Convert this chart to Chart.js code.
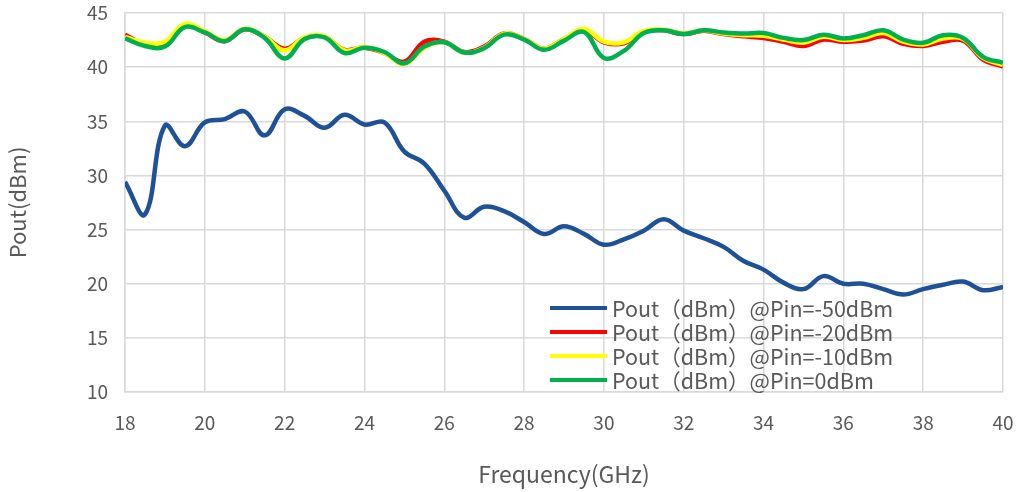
<!DOCTYPE html>
<html>
<head>
<meta charset="utf-8">
<script src="https://cdn.jsdelivr.net/npm/chart.js@4/dist/chart.umd.min.js"></script>
<style>
  html, body { margin: 0; padding: 0; background: #fff; }
  #wrap { width: 1022px; height: 492px; }
</style>
</head>
<body>
<div id="wrap"><canvas id="c" width="1022" height="492"></canvas></div>
<script>
// frequency points (GHz)
const freq = [];
for (let f = 18; f <= 40; f += 0.5) freq.push(f);

const pin50 = [29.4, 26.4, 34.6, 32.7, 34.9, 35.2, 35.9, 33.7, 36.1, 35.5, 34.4, 35.6, 34.7, 34.9, 32.2, 31.1,
  28.6, 26.1, 27.1, 26.7, 25.7, 24.6, 25.3, 24.6, 23.6, 24.1, 24.9, 25.95, 24.9, 24.2, 23.4, 22.1,
  21.3, 20.1, 19.5, 20.7, 20.0, 20.0, 19.5, 19.0, 19.5, 19.9, 20.2, 19.4, 19.7];
const pin20 = [43.0, 42.1, 42.2, 43.9, 43.2, 42.4, 43.5, 42.8, 41.7, 42.7, 42.8, 41.6, 41.8, 41.3, 40.5, 42.35,
  42.35, 41.4, 41.9, 43.1, 42.6, 41.7, 42.6, 43.4, 42.3, 42.2, 43.3, 43.4, 43.05, 43.35, 43.05, 42.85,
  42.7, 42.35, 41.95, 42.55, 42.35, 42.45, 42.85, 42.15, 41.95, 42.35, 42.45, 40.7, 40.05];
const pin10 = [42.8, 42.25, 42.35, 44.0, 43.3, 42.5, 43.55, 42.8, 41.55, 42.75, 42.85, 41.55, 41.85, 41.3, 40.3, 41.8,
  42.3, 41.35, 41.8, 43.1, 42.6, 41.7, 42.6, 43.55, 42.35, 42.3, 43.35, 43.45, 43.1, 43.4, 43.1, 42.95,
  42.9, 42.55, 42.25, 42.8, 42.5, 42.7, 43.15, 42.35, 42.1, 42.65, 42.6, 40.85, 40.2];
const pin0 = [42.66, 41.95, 41.9, 43.7, 43.2, 42.4, 43.5, 42.7, 40.8, 42.6, 42.75, 41.3, 41.8, 41.4, 40.35, 41.9,
  42.3, 41.35, 41.75, 43.0, 42.55, 41.6, 42.45, 43.25, 40.85, 41.5, 43.15, 43.4, 43.05, 43.4, 43.2, 43.1,
  43.15, 42.7, 42.5, 43.0, 42.65, 42.95, 43.4, 42.55, 42.25, 42.95, 42.7, 40.95, 40.4];

const seriesLabels = ['Pout（dBm）@Pin=-50dBm', 'Pout（dBm）@Pin=-20dBm', 'Pout（dBm）@Pin=-10dBm', 'Pout（dBm）@Pin=0dBm'];
const seriesColors = ['#1f5197', '#ff0000', '#ffff00', '#00b050'];
const seriesValues = [pin50, pin20, pin10, pin0];

const FONT = '"Noto Sans CJK SC", "Noto Sans", sans-serif';
const TEXT = '#595959';

// legend drawn inside the plot area
const insideLegend = {
  id: 'insideLegend',
  afterDraw(chart) {
    const ctx = chart.ctx;
    ctx.save();
    ctx.font = '21.5px ' + FONT;
    ctx.textBaseline = 'middle';
    chart.data.datasets.forEach((ds, i) => {
      const y = 308 + i * 24;
      ctx.strokeStyle = ds.borderColor;
      ctx.lineWidth = 4;
      ctx.beginPath();
      ctx.moveTo(550, y);
      ctx.lineTo(607, y);
      ctx.stroke();
      ctx.fillStyle = TEXT;
      ctx.fillText(ds.label, 612, y + 1);
    });
    ctx.restore();
  }
};

new Chart(document.getElementById('c'), {
  type: 'line',
  data: {
    datasets: seriesValues.map((vals, i) => ({
      label: seriesLabels[i],
      data: vals.map((v, k) => ({ x: freq[k], y: v })),
      borderColor: seriesColors[i],
      backgroundColor: seriesColors[i],
      borderWidth: 4.5,
      pointRadius: 0,
      tension: 0.4,
      order: 3 - i
    }))
  },
  options: {
    responsive: false,
    animation: false,
    layout: { padding: { left: 0, right: 19, top: 13, bottom: 0 } },
    plugins: { legend: { display: false }, tooltip: { enabled: false } },
    scales: {
      x: {
        type: 'linear',
        min: 18, max: 40,
        ticks: { stepSize: 2, color: TEXT, font: { family: FONT, size: 19 }, padding: 19 },
        grid: { color: '#d9d9d9', lineWidth: 1.5, drawTicks: false },
        border: { color: '#d9d9d9', width: 1.5 },
        title: { display: true, text: 'Frequency(GHz)', color: TEXT, font: { family: FONT, size: 23 }, padding: { top: 8 } },
        afterFit(s) { s.height = 100; s.paddingLeft = 0; s.paddingRight = 0; }
      },
      y: {
        min: 10, max: 45,
        ticks: { stepSize: 5, color: TEXT, font: { family: FONT, size: 19 }, padding: 17 },
        grid: { color: '#d9d9d9', lineWidth: 1.5, drawTicks: false },
        border: { color: '#d9d9d9', width: 1.5 },
        title: { display: true, text: 'Pout(dBm)', color: TEXT, font: { family: FONT, size: 22 }, padding: { bottom: 40 } },
        afterFit(s) { s.width = 125; s.paddingTop = 0; s.paddingBottom = 0; }
      }
    }
  },
  plugins: [insideLegend]
});
</script>
</body>
</html>
